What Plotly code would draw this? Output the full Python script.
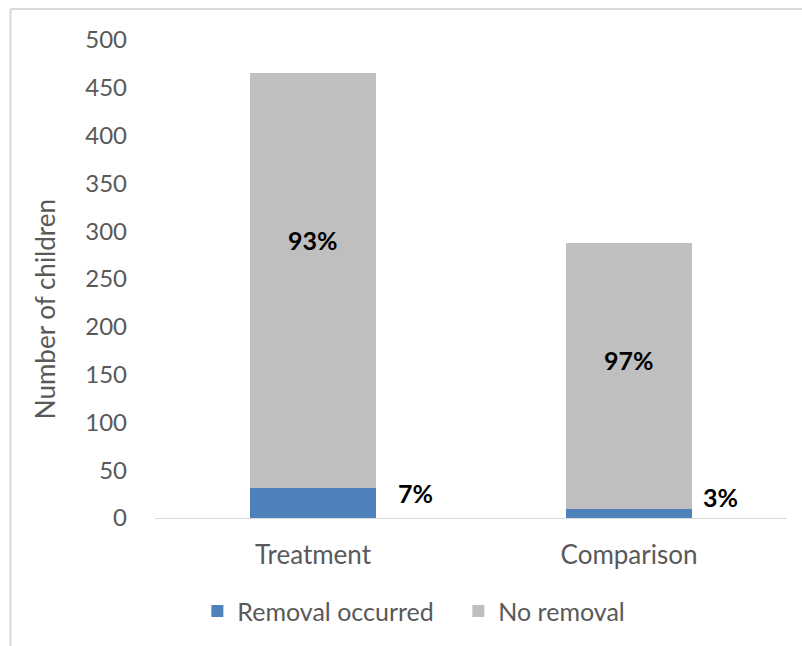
import plotly.graph_objects as go

# Children per group, split by whether a removal occurred
groups = ["Treatment", "Comparison"]
removal_occurred = [31, 9]
no_removal = [435, 279]

# Label heights (y values) for the percentage annotations
no_removal_label_y = [291, 165]
removal_label_y = [26, 22]
# Horizontal shift of the small labels to the right of each bar (category units)
removal_label_dx = [0.323, 0.291]

y_ticks = [0, 50, 100, 150, 200, 250, 300, 350, 400, 450, 500]

BLUE = "#4F81BD"
GREY = "#BFBFBF"
TEXT = "#595959"
FONT = "Lato"

totals = [a + b for a, b in zip(removal_occurred, no_removal)]

fig = go.Figure()
fig.add_trace(go.Bar(x=groups, y=removal_occurred, name="Removal occurred",
                     marker=dict(color=BLUE, line=dict(width=0)), width=0.4))
fig.add_trace(go.Bar(x=groups, y=no_removal, name="No removal",
                     marker=dict(color=GREY, line=dict(width=0)), width=0.4))

for i, g in enumerate(groups):
    pct_no = round(100 * no_removal[i] / totals[i])
    pct_rem = round(100 * removal_occurred[i] / totals[i])
    fig.add_annotation(x=g, y=no_removal_label_y[i], text=f"<b>{pct_no}%</b>",
                       showarrow=False, font=dict(size=25, color="black", family=FONT))
    fig.add_annotation(x=i + removal_label_dx[i], y=removal_label_y[i],
                       text=f"<b>{pct_rem}%</b>", showarrow=False,
                       font=dict(size=25, color="black", family=FONT),
                       xref="x", yref="y")

# Vertical axis title, placed slightly below the axis midpoint
fig.add_annotation(text="Number of children", textangle=-90, showarrow=False,
                   xref="paper", yref="paper", x=-0.174, y=0.437,
                   xanchor="center", yanchor="middle",
                   font=dict(size=26, color=TEXT, family=FONT))

# Thin frame around the chart area
fig.add_shape(type="line", xref="paper", yref="paper", x0=-0.2286, x1=1.05,
              y0=1.0649, y1=1.0649, line=dict(color="#D9D9D9", width=2))
fig.add_shape(type="line", xref="paper", yref="paper", x0=-0.2286, x1=-0.2286,
              y0=1.0649, y1=-0.3, line=dict(color="#D9D9D9", width=2))

fig.update_layout(
    barmode="stack",
    width=802, height=646,
    margin=dict(l=155, r=15, t=40, b=128),
    plot_bgcolor="white", paper_bgcolor="white",
    font=dict(family=FONT, color=TEXT, size=25),
    legend=dict(orientation="h", x=0.067, xanchor="left", y=-0.195, yanchor="middle",
                font=dict(size=25, color=TEXT), traceorder="normal",
                entrywidth=216, entrywidthmode="pixels"),
    showlegend=True,
)
fig.update_xaxes(showline=True, linecolor="#D9D9D9", linewidth=1, ticks="",
                 showgrid=False, ticklabelstandoff=14, tickfont=dict(size=26, color=TEXT))
fig.update_yaxes(range=[0, 500], tickvals=y_ticks, showgrid=False, zeroline=False,
                 showline=False, ticks="", ticklabelstandoff=27,
                 tickfont=dict(size=24, color=TEXT))

fig.write_html("out.html")
